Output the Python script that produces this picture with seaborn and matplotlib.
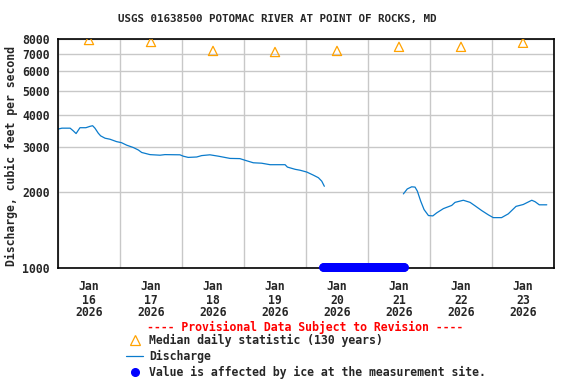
import pandas as pd
import seaborn as sns
import matplotlib
matplotlib.use("Agg")
import matplotlib.pyplot as plt
import matplotlib.dates as mdates
from matplotlib.lines import Line2D
from matplotlib.ticker import NullLocator

# ---- data ----
start = pd.Timestamp("2026-01-16 00:00")

median_days = ["2026-01-16 12:00", "2026-01-17 12:00", "2026-01-18 12:00", "2026-01-19 12:00",
               "2026-01-20 12:00", "2026-01-21 12:00", "2026-01-22 12:00", "2026-01-23 12:00"]
median_q = [7930, 7790, 7180, 7110, 7180, 7450, 7450, 7730]

# hours since Jan 16 00:00
seg1_hours = [0.0, 1.5, 4.7, 5.9, 7.0, 8.5, 10.8, 12.4, 13.4, 14.3, 15.6, 16.5, 18.2, 20.1, 22.7,
              24.6, 26.6, 29.2, 31.1, 32.4, 35.6, 39.5, 41.4, 47.2, 48.5, 50.4, 53.7, 55.6, 58.8,
              62.1, 66.6, 70.4, 72.4, 75.6, 78.8, 82.1, 87.9, 88.8, 91.8, 93.7, 96.3, 98.8, 100.8,
              102.1, 103.1]
seg1_q = [3530, 3560, 3560, 3475, 3390, 3575, 3575, 3620, 3640, 3560, 3400, 3320, 3250, 3220, 3150,
          3120, 3050, 2985, 2920, 2855, 2800, 2785, 2800, 2795, 2760, 2730, 2740, 2775, 2795,
          2760, 2705, 2700, 2660, 2600, 2590, 2555, 2555, 2500, 2450, 2430, 2390, 2325, 2270,
          2200, 2100]

seg2_hours = [133.7, 135.2, 136.9, 138.2, 139.1, 140.4, 141.7, 143.4, 145.1, 146.6, 149.2, 152.4,
              153.7, 156.9, 159.5, 161.4, 164.0, 166.6, 168.5, 171.7, 174.3, 177.3, 180.1, 183.4,
              184.7, 186.3, 189.2]
seg2_q = [1960, 2050, 2090, 2085, 2010, 1835, 1700, 1610, 1605, 1650, 1715, 1765, 1815, 1850,
          1815, 1760, 1685, 1620, 1580, 1580, 1635, 1750, 1780, 1850, 1825, 1775, 1775]

ice_start = "2026-01-20 06:30"
ice_end = "2026-01-21 14:00"
ice_q = 1012

yticks = [1000, 2000, 3000, 4000, 5000, 6000, 7000, 8000]

title = "USGS 01638500 POTOMAC RIVER AT POINT OF ROCKS, MD"
ylabel = "Discharge, cubic feet per second"
note = "---- Provisional Data Subject to Revision ----"
leg_labels = ["Median daily statistic (130 years)", "Discharge",
              "Value is affected by ice at the measurement site."]

# ---- frames ----
q = pd.DataFrame({
    "time": start + pd.to_timedelta(seg1_hours + seg2_hours, unit="h"),
    "q": seg1_q + seg2_q,
    "seg": [1] * len(seg1_q) + [2] * len(seg2_q),
})
med = pd.DataFrame({"time": pd.to_datetime(median_days), "q": median_q})
ice_t = pd.date_range(ice_start, ice_end, freq="15min")
ice = pd.DataFrame({"time": ice_t, "q": [ice_q] * len(ice_t)})

# ---- style ----
sns.set_style("white")
plt.rcParams["font.family"] = ["DejaVu Sans Mono"]
plt.rcParams["font.weight"] = "bold"
plt.rcParams["axes.labelweight"] = "bold"
fs = 8.3

line_col = "#0a7bcc"
med_col = "#ffa200"
ice_col = "#0000ff"

fig = plt.figure(figsize=(5.76, 3.84), dpi=100)
ax = fig.add_axes([58 / 576, 1 - 268 / 384, 496 / 576, 229 / 384])

sns.lineplot(data=q, x="time", y="q", units="seg", estimator=None, color=line_col,
             lw=0.9, ax=ax, legend=False)
sns.scatterplot(data=med, x="time", y="q", marker="^", s=44, facecolor="none",
                edgecolor=med_col, linewidth=0.9, ax=ax, legend=False, zorder=4)
sns.scatterplot(data=ice, x="time", y="q", marker="o", s=38, color=ice_col,
                edgecolor=ice_col, linewidth=0, ax=ax, legend=False, zorder=5, clip_on=False)

ax.set_yscale("log")
ax.set_ylim(1000, 8000)
ax.set_yticks(yticks, labels=[str(v) for v in yticks])
ax.yaxis.set_minor_locator(NullLocator())
ax.set_xlim(pd.Timestamp("2026-01-16"), pd.Timestamp("2026-01-24"))

ax.xaxis.set_major_locator(mdates.DayLocator())
ax.xaxis.set_major_formatter(plt.NullFormatter())
ax.xaxis.set_minor_locator(mdates.HourLocator(byhour=[12]))
ax.xaxis.set_minor_formatter(mdates.DateFormatter("%b\n%d\n%Y"))

ax.grid(True, which="major", color="#c8c8c8", lw=1.0)
ax.grid(False, which="minor")
ax.set_axisbelow(True)
ax.tick_params(which="both", length=0)
ax.tick_params(axis="y", labelsize=fs, pad=6)
ax.tick_params(axis="x", which="minor", labelsize=fs, pad=9)
plt.setp(ax.xaxis.get_minorticklabels(), linespacing=1.0, fontweight="bold")
plt.setp(ax.get_yticklabels(), fontweight="bold")

for s in ax.spines.values():
    s.set_color("black")
    s.set_linewidth(1.2)

ax.set_xlabel("")
ax.set_ylabel(ylabel, fontsize=fs, fontweight="bold", labelpad=3)
ax.yaxis.set_label_coords(-40 / 496, 0.49)

fig.text(277.5 / 576, 1 - 19 / 384, title, ha="center", va="center", fontsize=7.8,
         fontweight="bold")
fig.text(305.5 / 576, 1 - 327 / 384, note, ha="center", va="center", fontsize=fs, color="red",
         fontweight="bold")

handles = [
    Line2D([], [], marker="^", ls="none", mfc="none", mec=med_col, mew=0.9, ms=6.6),
    Line2D([], [], color=line_col, lw=0.9),
    Line2D([], [], marker="o", ls="none", color=ice_col, ms=5.5),
]
fig.legend(handles, leg_labels, loc="upper left", bbox_to_anchor=(126 / 576, 1 - 334 / 384),
           frameon=False, prop={"size": fs, "weight": "bold"}, borderpad=0, borderaxespad=0,
           handlelength=1.5, handletextpad=0.5, labelspacing=0.25)

fig.savefig("out.png", dpi=100)
